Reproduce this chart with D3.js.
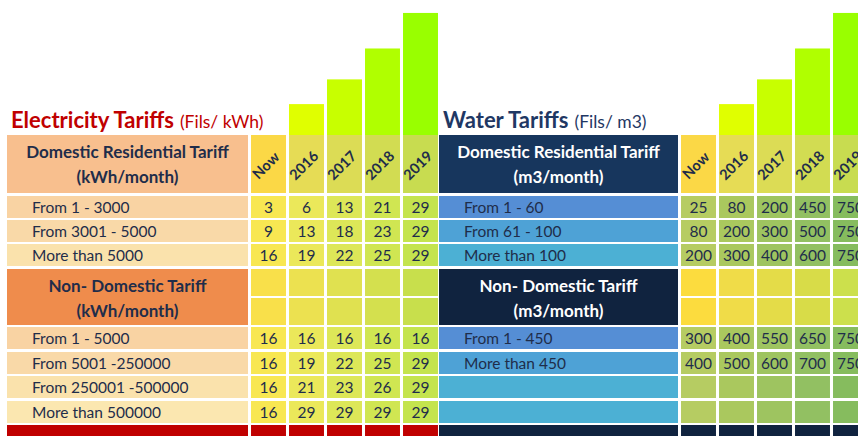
<!DOCTYPE html>
<html>
<head>
<meta charset="utf-8">
<script src="https://cdn.jsdelivr.net/npm/d3@7"></script>
<style>
  body { margin: 0; background: #fff; }
  svg { display: block; font-family: Lato, "Open Sans", sans-serif; }
</style>
</head>
<body>
<div id="chart"></div>
<script>
// data
const years = ['Now', '2016', '2017', '2018', '2019'];
const barLevels = [0, 1, 1.8, 2.8, 3.95];

const elecDomLabels = ['From 1 - 3000', 'From 3001 - 5000', 'More than 5000'];
const elecDomValues = [
    [3, 6, 13, 21, 29],
    [9, 13, 18, 23, 29],
    [16, 19, 22, 25, 29]
];
const elecNonLabels = ['From 1 - 5000', 'From 5001 -250000', 'From 250001 -500000', 'More than 500000'];
const elecNonValues = [
    [16, 16, 16, 16, 16],
    [16, 19, 22, 25, 29],
    [16, 21, 23, 26, 29],
    [16, 29, 29, 29, 29]
];

const waterDomLabels = ['From 1 - 60', 'From 61 - 100', 'More than 100'];
const waterDomValues = [
    [25, 80, 200, 450, 750],
    [80, 200, 300, 500, 750],
    [200, 300, 400, 600, 750]
];
const waterNonLabels = ['From 1 - 450', 'More than 450', '', ''];
const waterNonValues = [
    [300, 400, 550, 650, 750],
    [400, 500, 600, 700, 750],
    [],
    []
];

const W = 858, H = 436;
const svg = d3.select('#chart').append('svg')
    .attr('width', W).attr('height', H);

const barColors = ['#ffe040', '#e0ff00', '#c8ff00', '#b0ff00', '#99ff00'];
const ink = '#1f2d4a';

// row layout (shared by both panels)
const rows = {
    head: [135, 193],
    dom: [196, 220, 244],
    nonHead: [269, 325],
    non: [327, 352, 376, 401],
    foot: 425,
    h: 22
};

const yBar = d3.scaleLinear().domain([0, 4]).range([135, 11.4]);

function panel(opt) {
    const g = svg.append('g');
    const x = d3.scaleBand().domain(years)
        .range([opt.x0, opt.x0 + 190])
        .paddingInner(0.08).paddingOuter(0.04);
    const bw = x.bandwidth();

    // growth bars
    g.selectAll('rect.bar').data(years).join('rect')
        .attr('class', 'bar')
        .attr('x', d => x(d))
        .attr('width', bw)
        .attr('y', (d, i) => yBar(barLevels[i]))
        .attr('height', (d, i) => 135 - yBar(barLevels[i]))
        .attr('fill', (d, i) => barColors[i]);

    // title
    const t = g.append('text').attr('x', opt.lx + 4).attr('y', 128)
        .attr('fill', opt.titleColor);
    t.append('tspan').attr('font-size', 22).attr('font-weight', 'bold').text(opt.title);
    t.append('tspan').attr('font-size', 17.5).attr('dx', 6).text(opt.unit);

    // label column backgrounds
    const lw = opt.lw;
    const cx = opt.lx + lw / 2;
    g.append('rect').attr('x', opt.lx).attr('y', rows.head[0])
        .attr('width', lw).attr('height', rows.head[1] - rows.head[0])
        .attr('fill', opt.headFill);
    g.append('rect').attr('x', opt.lx).attr('y', rows.nonHead[0])
        .attr('width', lw).attr('height', rows.nonHead[1] - rows.nonHead[0])
        .attr('fill', opt.nonHeadFill);

    [[opt.domTitle, rows.head[0]], [opt.nonTitle, rows.nonHead[0]]].forEach(([txt, y0]) => {
        txt.forEach((s, i) => {
            g.append('text').attr('x', cx).attr('y', y0 + 23 + i * 25)
                .attr('text-anchor', 'middle').attr('font-size', 17)
                .attr('font-weight', 'bold').attr('fill', opt.headInk).text(s);
        });
    });

    // header year cells
    g.selectAll('rect.yh').data(years).join('rect')
        .attr('class', 'yh')
        .attr('x', d => x(d)).attr('width', bw)
        .attr('y', rows.head[0]).attr('height', rows.head[1] - rows.head[0])
        .attr('fill', (d, i) => opt.yearHeadFill[i]);
    g.selectAll('text.yr').data(years).join('text')
        .attr('class', 'yr')
        .attr('transform', d => `translate(${x(d) + bw / 2 + 1},${rows.head[0] + 34}) rotate(-45)`)
        .attr('text-anchor', 'middle').attr('font-size', 14.5)
        .attr('font-weight', 'bold').attr('fill', ink)
        .text(d => d);

    // non-domestic header split cells
    [rows.nonHead[0], 298].forEach(y0 => {
        g.selectAll(null).data(years).join('rect')
            .attr('x', d => x(d)).attr('width', bw)
            .attr('y', y0).attr('height', 27)
            .attr('fill', (d, i) => opt.nonYearFill[i]);
    });

    // data rows
    function block(labels, values, ys, fills) {
        labels.forEach((lab, r) => {
            const y0 = ys[r];
            g.append('rect').attr('x', opt.lx).attr('y', y0)
                .attr('width', lw).attr('height', rows.h)
                .attr('fill', fills[r]);
            g.append('text').attr('x', opt.lx + 25).attr('y', y0 + 16.5)
                .attr('font-size', 15.5).attr('fill', ink).text(lab);
            g.selectAll(null).data(years).join('rect')
                .attr('x', d => x(d)).attr('width', bw)
                .attr('y', y0).attr('height', rows.h)
                .attr('fill', (d, i) => opt.cellFill[i]);
            g.selectAll(null).data(values[r]).join('text')
                .attr('x', (d, i) => x(years[i]) + bw / 2)
                .attr('y', y0 + 16.5)
                .attr('text-anchor', 'middle').attr('font-size', 15.5)
                .attr('fill', ink).text(d => d);
        });
    }
    block(opt.domLabels, opt.domValues, rows.dom, opt.domFills);
    block(opt.nonLabels, opt.nonValues, rows.non, opt.nonFills);

    // footer band
    g.append('rect').attr('x', opt.lx).attr('y', rows.foot)
        .attr('width', lw).attr('height', H - rows.foot).attr('fill', opt.footFill);
    g.selectAll(null).data(years).join('rect')
        .attr('x', d => x(d)).attr('width', bw)
        .attr('y', rows.foot).attr('height', H - rows.foot)
        .attr('fill', opt.footFill);
}

panel({
    x0: 249.5, lx: 7, lw: 241,
    title: 'Electricity Tariffs', unit: '(Fils/ kWh)', titleColor: '#c00000',
    domTitle: ['Domestic Residential Tariff', '(kWh/month)'],
    nonTitle: ['Non- Domestic Tariff', '(kWh/month)'],
    headInk: ink,
    headFill: '#f8bf8e', nonHeadFill: '#ef8c4c',
    yearHeadFill: ['#fbd846', '#e6dc55', '#dcdc55', '#d2dc52', '#c8dc50'],
    nonYearFill: ['#f9e04a', '#ece150', '#e0e150', '#d4e04e', '#c8df4c'],
    cellFill: ['#f8e752', '#ebe85a', '#dde758', '#d0e652', '#c4e44e'],
    domLabels: elecDomLabels, domValues: elecDomValues,
    domFills: ['#f9d3a3', '#f9d9a8', '#fae2ac'],
    nonLabels: elecNonLabels, nonValues: elecNonValues,
    nonFills: ['#f9d3a3', '#f9d9a8', '#fae2ac', '#fbe7b0'],
    footFill: '#c00000'
});

panel({
    x0: 679.5, lx: 439, lw: 239,
    title: 'Water Tariffs', unit: '(Fils/ m3)', titleColor: '#1f3864',
    domTitle: ['Domestic Residential Tariff', '(m3/month)'],
    nonTitle: ['Non- Domestic Tariff', '(m3/month)'],
    headInk: '#ffffff',
    headFill: '#17365d', nonHeadFill: '#10233f',
    yearHeadFill: ['#fbd846', '#e6dc55', '#dcdc55', '#d2dc52', '#c8dc50'],
    nonYearFill: ['#fcdc3e', '#f0dc48', '#e4dc48', '#d8dc48', '#cce04c'],
    cellFill: ['#b6cc62', '#aac85e', '#9ec460', '#92c062', '#86bc5e'],
    domLabels: waterDomLabels, domValues: waterDomValues,
    domFills: ['#558ed5', '#4ea2d6', '#4cb0d4'],
    nonLabels: waterNonLabels, nonValues: waterNonValues,
    nonFills: ['#558ed5', '#4ea2d6', '#4cb0d4', '#4cb0d4'],
    footFill: '#10233f'
});
</script>
</body>
</html>
